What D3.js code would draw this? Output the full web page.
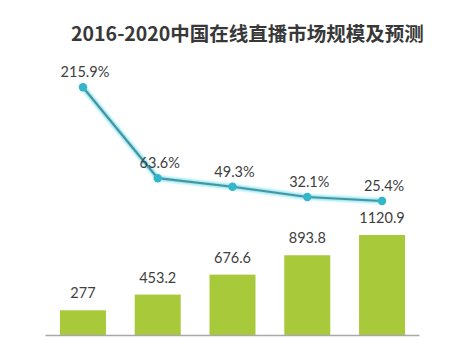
<!DOCTYPE html>
<html>
<head>
<meta charset="utf-8">
<script src="https://cdn.jsdelivr.net/npm/d3@7/dist/d3.min.js"></script>
<style>
  html, body { margin: 0; padding: 0; background: #fff; }
  svg { display: block; }
</style>
</head>
<body>
<svg id="chart" width="470" height="346"></svg>
<script>
// China online live-streaming market size (bars) and growth rate (line), 2016-2020
const years = ["2016", "2017", "2018", "2019", "2020"];
const marketSize = [277, 453.2, 676.6, 893.8, 1120.9];
const growthRate = [215.9, 63.6, 49.3, 32.1, 25.4];
const title = "2016-2020中国在线直播市场规模及预测";

const W = 470, H = 346;
const svg = d3.select("#chart");
const fontCJK = "'Noto Sans CJK SC', 'Noto Sans', sans-serif";
const fontNum = "Lato, 'Open Sans', sans-serif";

// soft glow around the growth line
const defs = svg.append("defs");
const glow = defs.append("filter").attr("id", "glow")
  .attr("x", "-20%").attr("y", "-20%").attr("width", "140%").attr("height", "140%");
glow.append("feGaussianBlur").attr("stdDeviation", 1.2);

// title
svg.append("text")
  .attr("x", 247.5).attr("y", 41)
  .attr("text-anchor", "middle")
  .attr("font-family", fontCJK)
  .attr("font-weight", 700)
  .attr("font-size", 19.5)
  .attr("fill", "#383838")
  .text(title);

// scales
const x = d3.scaleBand().domain(years).range([45, 420]).paddingInner(0.385).paddingOuter(0.2);
const yBar = d3.scaleLinear().domain([0, 1120.9]).range([335, 235]);
const yLine = d3.scaleLinear().domain([25.4, 215.9]).range([201, 87.3]);
const cx = d => x(d) + x.bandwidth() / 2;

// bars
svg.append("g").selectAll("rect").data(marketSize).join("rect")
  .attr("x", (d, i) => x(years[i]))
  .attr("width", x.bandwidth())
  .attr("y", d => yBar(d))
  .attr("height", d => yBar(0) - yBar(d))
  .attr("fill", "#a8c93a");

// bar value labels
svg.append("g").selectAll("text").data(marketSize).join("text")
  .attr("x", (d, i) => cx(years[i]))
  .attr("y", d => yBar(d) - 12)
  .attr("text-anchor", "middle")
  .attr("font-family", fontNum)
  .attr("font-size", 14.5)
  .attr("fill", "#404040")
  .text(d => d);

// x axis (year labels sit just below the frame edge)
const xAxis = svg.append("g").attr("transform", `translate(0,${yBar(0)})`)
  .call(d3.axisBottom(x).tickSize(0).tickPadding(13));
xAxis.select(".domain").attr("stroke", "#a8a8a8").attr("stroke-width", 1.5)
  .attr("d", "M45.5,0.5H419.5");
xAxis.selectAll("text").attr("font-family", fontNum).attr("font-size", 14.5).attr("fill", "#404040");

// growth line
const line = d3.line().x((d, i) => cx(years[i])).y(d => yLine(d));
svg.append("path").datum(growthRate)
  .attr("d", line)
  .attr("fill", "none")
  .attr("stroke", "#8fe6f4")
  .attr("stroke-width", 5)
  .attr("stroke-linejoin", "round")
  .attr("filter", "url(#glow)");
svg.append("path").datum(growthRate)
  .attr("d", line)
  .attr("fill", "none")
  .attr("stroke", "#4a949e")
  .attr("stroke-width", 2.2)
  .attr("stroke-linejoin", "round");

// line markers
svg.append("g").selectAll("circle").data(growthRate).join("circle")
  .attr("cx", (d, i) => cx(years[i]))
  .attr("cy", d => yLine(d))
  .attr("r", 4.2)
  .attr("fill", "#33b5cc");

// growth labels
svg.append("g").selectAll("text").data(growthRate).join("text")
  .attr("x", (d, i) => cx(years[i]) + 2)
  .attr("y", d => yLine(d) - 10)
  .attr("text-anchor", "middle")
  .attr("font-family", fontNum)
  .attr("font-size", 14.5)
  .attr("fill", "#404040")
  .text(d => d.toFixed(1) + "%");
</script>
</body>
</html>
